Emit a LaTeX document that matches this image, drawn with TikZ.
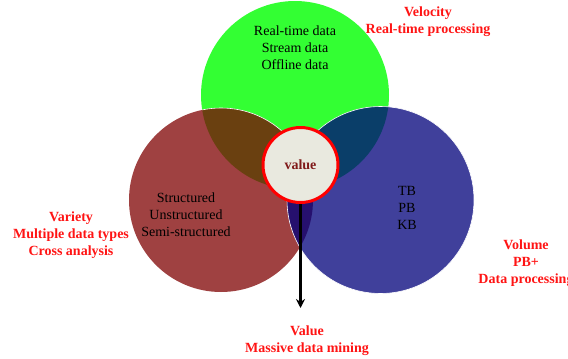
\documentclass[tikz,border=0pt]{standalone}
\usepackage{fontspec}
\setmainfont{Liberation Serif}
\usetikzlibrary{arrows.meta}
\definecolor{vgreen}{RGB}{51,255,51}
\definecolor{vred}{RGB}{159,65,65}
\definecolor{vblue}{RGB}{64,64,155}
\definecolor{vbrown}{RGB}{106,64,16}
\definecolor{vteal}{RGB}{10,62,105}
\definecolor{vpurple}{RGB}{38,16,110}
\definecolor{vcore}{RGB}{233,233,223}
\definecolor{vcoretext}{RGB}{128,26,26}
\definecolor{vlabel}{RGB}{255,20,20}
\begin{document}
\begin{tikzpicture}[x=1pt,y=-1pt,
  txt/.style={align=center,font=\fontsize{14}{17}\selectfont,text=black,inner sep=0pt},
  lbl/.style={align=center,font=\fontsize{14}{17}\selectfont\bfseries,text=vlabel,inner sep=0pt},
  setcircle/.style={circle,inner sep=0pt,minimum size=#1},
]
\useasboundingbox (0,0) rectangle (568,359);

% the three sets
\coordinate (g) at (295,95);
\coordinate (r) at (221,200);
\coordinate (b) at (380.5,200);
\fill[vgreen] (g) circle (94);
\fill[vred] (r) circle (92);
\fill[vblue] (b) circle (93.5);

% pairwise overlaps
\begin{scope}
  \clip (g) circle (94);
  \fill[vbrown] (r) circle (92);
  \fill[vteal] (b) circle (93.5);
\end{scope}
\begin{scope}
  \clip (r) circle (92);
  \fill[vpurple] (b) circle (93.5);
\end{scope}

% thin white rims
\draw[white,line width=0.6pt] (b) circle (93.5);
\begin{scope}
  \clip (g) circle (94);
  \draw[white,line width=0.6pt] (r) circle (92);
\end{scope}

% set contents
\node[txt] (vel) at (295,48) {Real-time data\\Stream data\\Offline data};
\node[txt] (var) at (186,215) {Structured\\Unstructured\\Semi-structured};
\node[txt] (vol) at (407,208) {TB\\PB\\KB};

% centre
\node[setcircle=75pt,draw=red,line width=3pt,fill=vcore,
      font=\fontsize{14}{17}\selectfont\bfseries,text=vcoretext] (val) at (300.5,165) {value};

\coordinate (tip) at (300.5,308);
\draw[line width=2.6pt,-{Stealth[length=9pt,width=9pt]}] (val.south) -- (tip);

% outer labels
\node[lbl] (lvel) at (428,21.5) {Velocity\\Real-time processing};
\node[lbl] (lvar) at (71,235) {Variety\\Multiple data types\\Cross analysis};
\node[lbl] (lvol) at (526,263) {Volume\\PB+\\Data processing};
\node[lbl] (lval) at (307,340.5) {Value\\Massive data mining};
\end{tikzpicture}
\end{document}
